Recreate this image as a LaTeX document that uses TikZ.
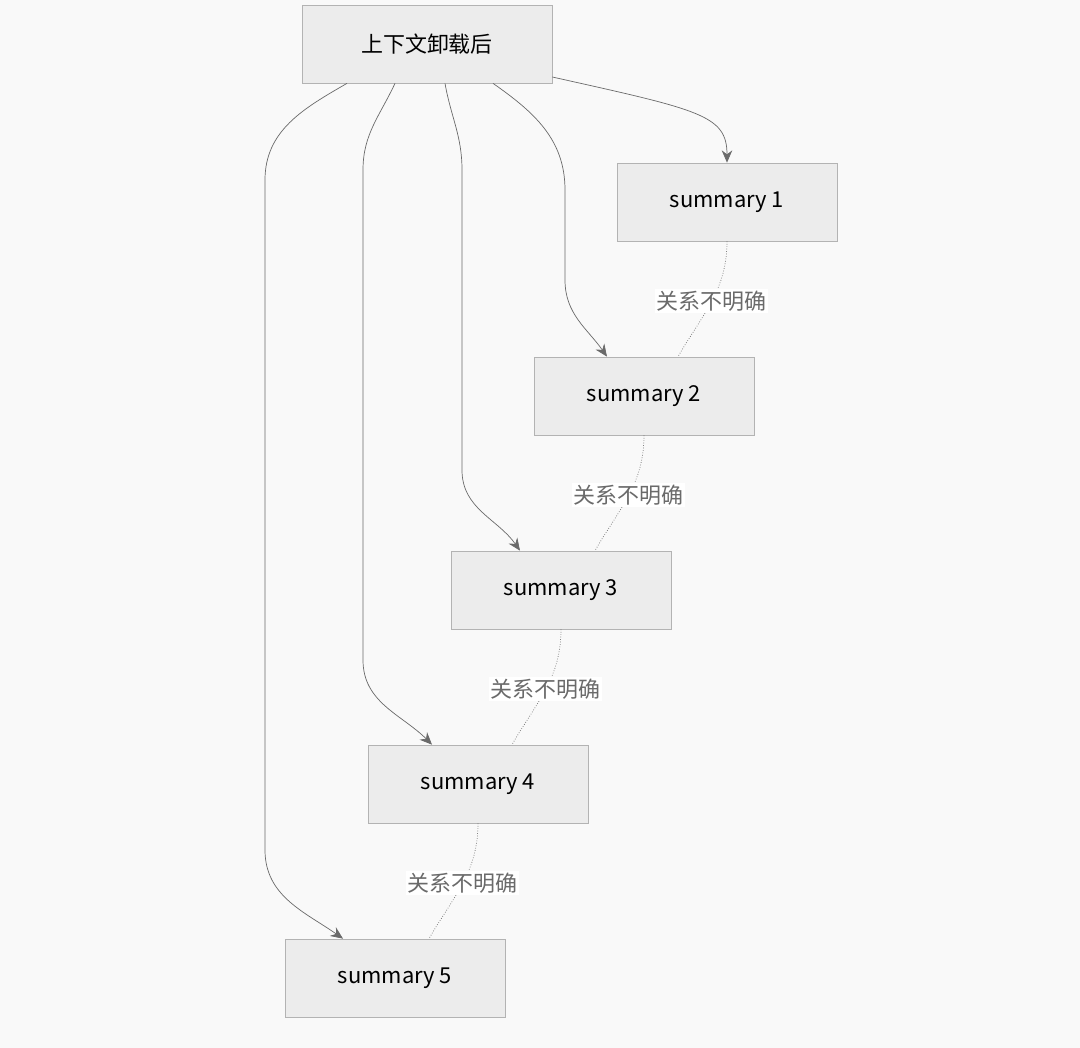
\documentclass[tikz,border=0pt]{standalone}
\usepackage{fontspec}
\setmainfont{Noto Sans CJK SC}
\usetikzlibrary{arrows.meta}
\definecolor{bgc}{HTML}{F9F9F9}
\definecolor{boxc}{HTML}{ECECEC}
\definecolor{linec}{HTML}{B3B3B3}
\definecolor{edgec}{HTML}{6A6A6A}
\tikzset{
  box/.style={rectangle, draw=linec, fill=boxc, minimum width=4.4cm, minimum height=1.56cm, font=\fontsize{12.5}{14}\selectfont, inner sep=0pt},
  flow/.style={edgec, thin, -{Stealth[length=7pt,width=6pt]}},
  weak/.style={edgec, densely dotted, thin},
  tag/.style={fill=white, inner sep=1pt, font=\fontsize{12.5}{14}\selectfont}
}
\begin{document}
\begin{tikzpicture}[x=0.02cm, y=-0.02cm]
    \fill[bgc] (0,0) rectangle (1080,1048);
    \useasboundingbox (0,0) rectangle (1080,1048);

    % Nodes
    \node[box, minimum width=5cm] (top) at (427,44) {上下文卸载后};
    \node[box] (s1) at (727,202) {summary 1};
    \node[box] (s2) at (644,396) {summary 2};
    \node[box] (s3) at (561,590) {summary 3};
    \node[box] (s4) at (478,784) {summary 4};
    \node[box] (s5) at (395,978) {summary 5};

    % Edges
    \draw[flow] (top.east |- 0,77) .. controls (700,110) and (727,115) .. (s1.north);
    \draw[flow] ([xshift=1.32cm]top.south) to[out=-35,in=90] (565,190) -- (565,280) to[out=-90,in=125] ([xshift=-0.74cm]s2.north);
    \draw[flow] ([xshift=0.36cm]top.south) to[out=-80,in=90] (462,170) -- (462,470) to[out=-90,in=125] ([xshift=-0.82cm]s3.north);
    \draw[flow] ([xshift=-0.64cm]top.south) to[out=-115,in=90] (363,170) -- (363,660) to[out=-90,in=135] ([xshift=-0.92cm]s4.north);
    \draw[flow] ([xshift=-1.6cm]top.south) to[out=-150,in=90] (265,180) -- (265,850) to[out=-90,in=145] ([xshift=-1.04cm]s5.north);

    % Weak links
    \draw[weak] (s1.south) to[out=-90,in=60] node[tag] {关系不明确} ([xshift=0.68cm]s2.north);
    \draw[weak] (s2.south) to[out=-90,in=60] node[tag] {关系不明确} ([xshift=0.68cm]s3.north);
    \draw[weak] (s3.south) to[out=-90,in=60] node[tag] {关系不明确} ([xshift=0.68cm]s4.north);
    \draw[weak] (s4.south) to[out=-90,in=60] node[tag] {关系不明确} ([xshift=0.68cm]s5.north);

\end{tikzpicture}
\end{document}
